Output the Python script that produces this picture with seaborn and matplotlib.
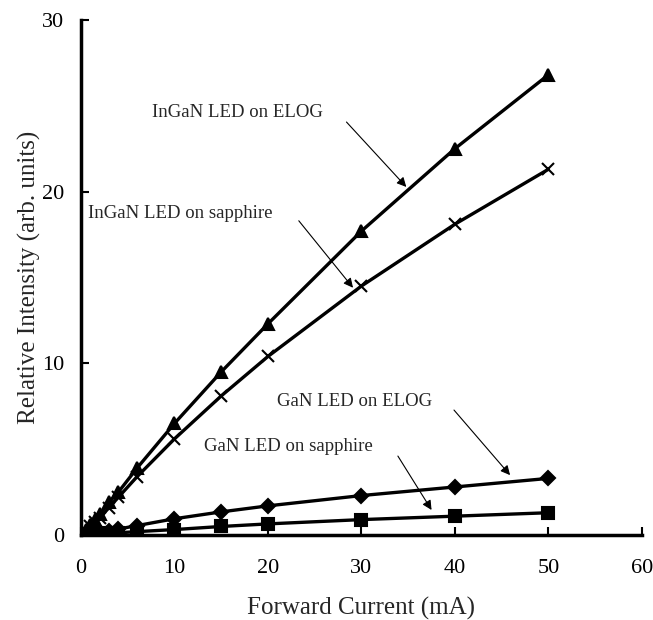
import matplotlib
matplotlib.use("Agg")
import matplotlib.pyplot as plt
import seaborn as sns
import pandas as pd

current = [0, 0.5, 1, 1.5, 2, 3, 4, 6, 10, 15, 20, 30, 40, 50]
ingan_elog = [0, 0.3, 0.6, 0.9, 1.2, 1.9, 2.5, 3.9, 6.5, 9.5, 12.3, 17.7, 22.5, 26.8]
ingan_sapph = [0, 0.25, 0.5, 0.75, 1.0, 1.6, 2.2, 3.4, 5.6, 8.1, 10.4, 14.5, 18.1, 21.3]
gan_elog = [0, 0.03, 0.07, 0.12, 0.17, 0.26, 0.35, 0.55, 0.95, 1.35, 1.7, 2.3, 2.8, 3.3]
gan_sapph = [0, 0.01, 0.03, 0.05, 0.07, 0.1, 0.13, 0.2, 0.32, 0.5, 0.65, 0.9, 1.1, 1.3]

series_names = ["InGaN LED on ELOG", "InGaN LED on sapphire", "GaN LED on ELOG", "GaN LED on sapphire"]
series_vals = [ingan_elog, ingan_sapph, gan_elog, gan_sapph]
markers = ["^", "x", "D", "s"]
msizes = [9, 9, 7, 9]

rows = []
for name, vals in zip(series_names, series_vals):
    for x, y in zip(current, vals):
        rows.append({"current": x, "intensity": y, "series": name})
df = pd.DataFrame(rows)

sns.set_style("ticks")
plt.rcParams["font.family"] = ["Liberation Serif", "DejaVu Serif"]

fig = plt.figure(figsize=(6.53, 6.2), dpi=100)
ax = fig.add_axes([0.124, 0.137, 0.859, 0.831])

for name, m, ms in zip(series_names, markers, msizes):
    sub = df[df["series"] == name]
    sns.lineplot(data=sub, x="current", y="intensity", ax=ax, color="black",
                 linewidth=2.4, marker=m, markersize=ms, markeredgecolor="black",
                 markerfacecolor="black", markeredgewidth=1.5, legend=False)

ax.set_xlim(0, 60)
ax.set_ylim(0, 30)
ax.set_xticks([0, 10, 20, 30, 40, 50, 60])
ax.set_yticks([0, 10, 20, 30])
ax.tick_params(direction="in", length=6, width=1.5, labelsize=16, colors="black")
ax.tick_params(axis="x", pad=17)
ax.tick_params(axis="y", pad=12)
for s in ["top", "right"]:
    ax.spines[s].set_visible(False)
for s in ["left", "bottom"]:
    ax.spines[s].set_linewidth(2.5)
    ax.spines[s].set_color("black")

ax.set_xlabel("Forward Current (mA)", fontsize=18, labelpad=14)
ax.set_ylabel("Relative Intensity (arb. units)", fontsize=18, labelpad=1)

annots = [
    ("InGaN LED on ELOG", (16.7, 24.58), (28.4, 24.05), (34.8, 20.27)),
    ("InGaN LED on sapphire", (10.6, 18.75), (23.3, 18.3), (29.1, 14.4)),
    ("GaN LED on ELOG", (29.3, 7.75), (39.9, 7.28), (45.9, 3.49)),
    ("GaN LED on sapphire", (22.2, 5.13), (33.9, 4.6), (37.5, 1.46)),
]
for text, tpos, a0, a1 in annots:
    ax.text(tpos[0], tpos[1], text, ha="center", va="center", fontsize=13.5)
    ax.annotate("", xy=a1, xytext=a0,
                arrowprops=dict(arrowstyle="-|>", color="black", lw=0.8,
                                mutation_scale=14, shrinkA=0, shrinkB=0))

fig.savefig("out.png", dpi=100)
